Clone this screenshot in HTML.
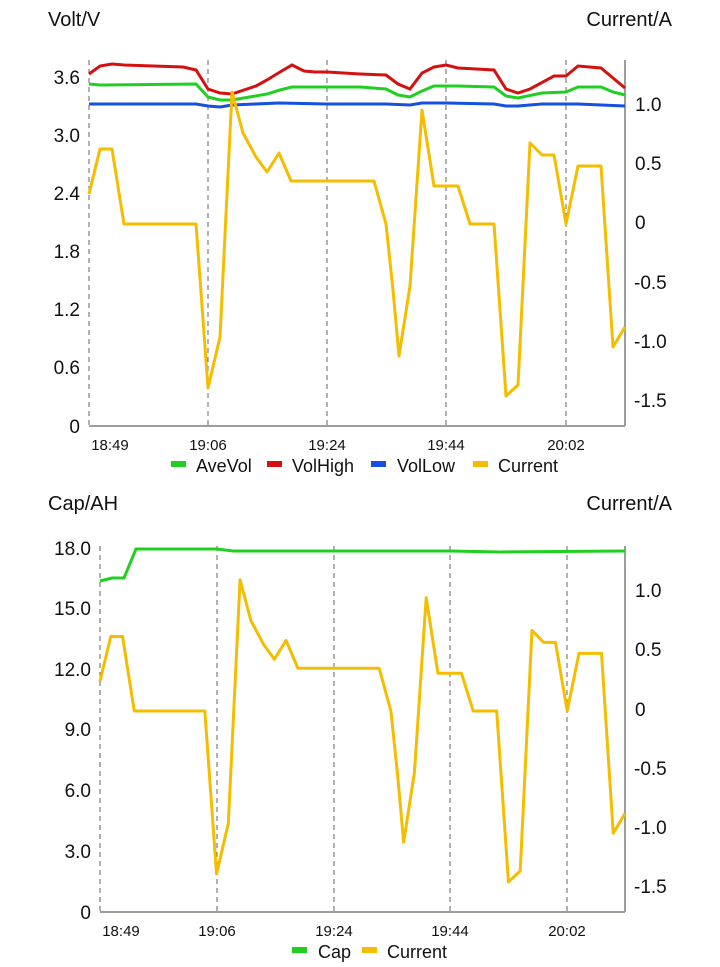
<!DOCTYPE html>
<html><head><meta charset="utf-8"><style>
html,body{margin:0;padding:0;background:#fff;}
svg{display:block;font-family:"Liberation Sans",sans-serif;}
</style></head><body>
<svg width="720" height="967" xmlns="http://www.w3.org/2000/svg">
<defs>
<polyline id="cur" fill="none" stroke="#f4bd00" stroke-width="3" stroke-linejoin="round" vector-effect="non-scaling-stroke" points="89,194 100,149 112,149 124,224 196,224 208,388 220,337 232,92 243,133 256,157 267,172 279,153 291,181 374,181 386,224 393,290 399,356 410,286 422,110 434,186 458,186 470,224 494,224 506,396 518,385 530,143 542,155 554,155 566,224 578,166 601,166 613,347 625,327"/>
</defs>
<!-- TOP CHART -->
<text x="48" y="26" font-size="20" fill="#111">Volt/V</text>
<text x="672" y="26" font-size="20" fill="#111" text-anchor="end">Current/A</text>
<g stroke="#666" stroke-width="1" stroke-dasharray="5,4">
<line x1="89" y1="60" x2="89" y2="426"/><line x1="208" y1="60" x2="208" y2="426"/><line x1="327" y1="60" x2="327" y2="426"/><line x1="446" y1="60" x2="446" y2="426"/><line x1="566" y1="60" x2="566" y2="426"/>
</g>
<line x1="89" y1="426" x2="625" y2="426" stroke="#9a9f98" stroke-width="2"/>
<line x1="625" y1="60" x2="625" y2="426" stroke="#9a9f98" stroke-width="2"/>
<g font-size="19" fill="#111" text-anchor="end">
<text x="80" y="84">3.6</text><text x="80" y="142">3.0</text><text x="80" y="200">2.4</text><text x="80" y="258">1.8</text><text x="80" y="316">1.2</text><text x="80" y="374">0.6</text><text x="80" y="433">0</text>
</g>
<g font-size="19" fill="#111">
<text x="635" y="111">1.0</text><text x="635" y="170">0.5</text><text x="635" y="229">0</text><text x="634" y="289">-0.5</text><text x="634" y="348">-1.0</text><text x="634" y="407">-1.5</text>
</g>
<g font-size="15" fill="#111" text-anchor="middle">
<text x="110" y="450">18:49</text><text x="208" y="450">19:06</text><text x="327" y="450">19:24</text><text x="446" y="450">19:44</text><text x="566" y="450">20:02</text>
</g>
<polyline fill="none" stroke="#1550e0" stroke-width="3" points="89,104 196,104 208,106 220,107 232,105 279,103 327,104 386,104 410,105 422,103 446,103 494,104 506,106 518,106 542,104 566,104 578,104 625,106"/>
<polyline fill="none" stroke="#20d020" stroke-width="3" points="89,84 100,85 196,84 208,97 220,100 232,100 267,94 280,90 292,87 327,87 360,87 386,89 398,95 410,97 422,91 434,86 458,86 494,87 506,96 518,98 542,93 566,92 578,87 601,87 613,92 625,95"/>
<polyline fill="none" stroke="#d41010" stroke-width="3" points="89,74 100,66 112,64 124,65 183,67 196,70 208,89 220,93 232,94 256,86 267,80 280,72 292,65 304,71 315,72 327,72 360,74 386,75 398,84 410,89 422,73 434,67 446,65 458,68 494,70 506,89 518,93 530,89 554,76 566,76 578,66 601,68 613,78 625,88"/>
<use href="#cur"/>
<g font-size="18" fill="#111">
<rect x="171" y="461" width="15" height="6" fill="#20d020"/><text x="196" y="472">AveVol</text>
<rect x="267" y="461" width="15" height="6" fill="#d41010"/><text x="292" y="472">VolHigh</text>
<rect x="371" y="461" width="15" height="6" fill="#1550e0"/><text x="397" y="472">VolLow</text>
<rect x="473" y="461" width="15" height="6" fill="#f4bd00"/><text x="498" y="472">Current</text>
</g>
<!-- BOTTOM CHART -->
<text x="48" y="510" font-size="20" fill="#111">Cap/AH</text>
<text x="672" y="510" font-size="20" fill="#111" text-anchor="end">Current/A</text>
<g stroke="#666" stroke-width="1" stroke-dasharray="5,4">
<line x1="100" y1="546" x2="100" y2="912"/><line x1="217" y1="546" x2="217" y2="912"/><line x1="334" y1="546" x2="334" y2="912"/><line x1="450" y1="546" x2="450" y2="912"/><line x1="567" y1="546" x2="567" y2="912"/>
</g>
<line x1="100" y1="912" x2="625" y2="912" stroke="#9a9f98" stroke-width="2"/>
<line x1="625" y1="546" x2="625" y2="912" stroke="#9a9f98" stroke-width="2"/>
<g font-size="19" fill="#111" text-anchor="end">
<text x="91" y="555">18.0</text><text x="91" y="615">15.0</text><text x="91" y="676">12.0</text><text x="91" y="736">9.0</text><text x="91" y="797">6.0</text><text x="91" y="858">3.0</text><text x="91" y="919">0</text>
</g>
<g font-size="19" fill="#111">
<text x="635" y="597">1.0</text><text x="635" y="656">0.5</text><text x="635" y="716">0</text><text x="634" y="775">-0.5</text><text x="634" y="834">-1.0</text><text x="634" y="893">-1.5</text>
</g>
<g font-size="15" fill="#111" text-anchor="middle">
<text x="121" y="936">18:49</text><text x="217" y="936">19:06</text><text x="334" y="936">19:24</text><text x="450" y="936">19:44</text><text x="567" y="936">20:02</text>
</g>
<polyline fill="none" stroke="#20d020" stroke-width="3" points="100,581 112,578 124,578 136,549 217,549 233,551 250,551 450,551 500,552 625,551"/>
<g transform="translate(100,709) scale(0.9795,0.994) translate(-89,-222)"><use href="#cur"/></g>
<g font-size="18" fill="#111">
<rect x="292" y="947" width="15" height="6" fill="#20d020"/><text x="318" y="958">Cap</text>
<rect x="362" y="947" width="15" height="6" fill="#f4bd00"/><text x="387" y="958">Current</text>
</g>
</svg>
</body></html>
